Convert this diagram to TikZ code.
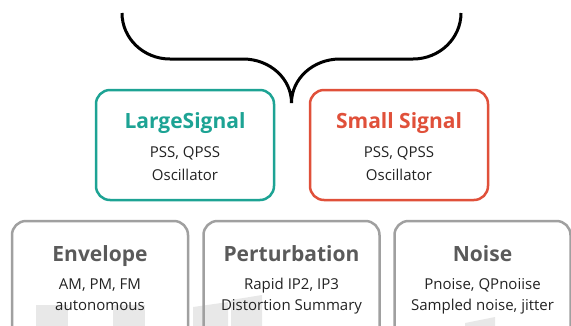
\documentclass[tikz,border=0pt]{standalone}
\usepackage{fontspec}
\setmainfont{Open Sans}
\definecolor{tealc}{HTML}{1DA394}
\definecolor{redc}{HTML}{E0503A}
\definecolor{grayb}{HTML}{A0A0A0}
\definecolor{grayt}{HTML}{5A5A5A}
\definecolor{bodyt}{HTML}{222222}
\definecolor{wmark}{HTML}{E8E8E8}
\begin{document}
\begin{tikzpicture}[x=1pt,y=-1pt,
  box/.style={rounded corners=14pt, line width=2.5pt, minimum width=178pt, minimum height=110pt, inner sep=0pt},
  lowbox/.style={box, draw=grayb, minimum width=176pt, minimum height=124pt},
  title/.style={anchor=base, inner sep=0pt, font=\fontsize{21}{25}\selectfont\bfseries},
  body/.style={anchor=base, inner sep=0pt, font=\fontsize{15}{18}\selectfont, text=bodyt},
  bracestyle/.style={line width=3pt, line cap=butt},
  wm/.style={fill=wmark, draw=none}]
\useasboundingbox (0,0) rectangle (571,325);
\clip (0,0) rectangle (571,325);
% watermark
\fill[wm] (36,305) rectangle (68,330);
\fill[wm] (113,305) rectangle (145,330);
\fill[wm] (193,307) -- (228,302) -- (228,330) -- (193,330) -- cycle;
\fill[wm] (231,300) -- (262,295) -- (262,330) -- (231,330) -- cycle;
\fill[wm] (465,323) -- (495,317) -- (495,330) -- (465,330) -- cycle;
% brace
\coordinate (bl) at (122,13);
\coordinate (br) at (461,13);
\coordinate (tip) at (291.5,103);
\draw[bracestyle] (bl) .. controls (122,38.4) and (143.5,59) .. (170,59)
  -- (243,59) .. controls (270,59) and (291.5,78.7) .. (tip)
  .. controls (291.5,78.7) and (313,59) .. (340,59)
  -- (413,59) .. controls (439.5,59) and (461,38.4) .. (br);
% top boxes
\node[box, draw=tealc] (large) at (185,145) {};
\node[box, draw=redc] (small) at (399,145) {};
\node[title, text=tealc] (largeT) at (185,128.3) {LargeSignal};
\node[body] (largeA) at (185,157.3) {PSS, QPSS};
\node[body] (largeB) at (185,180) {Oscillator};
\node[title, text=redc] (smallT) at (399,128.3) {Small Signal};
\node[body] (smallA) at (399,157.3) {PSS, QPSS};
\node[body] (smallB) at (399,180) {Oscillator};
% bottom boxes
\node[lowbox] (env) at (100,283) {};
\node[lowbox] (pert) at (291.5,283) {};
\node[lowbox] (noise) at (482.5,283) {};
\node[title, text=grayt] (envT) at (100,261.7) {Envelope};
\node[body] (envA) at (100,289) {AM, PM, FM};
\node[body] (envB) at (100,310) {autonomous};
\node[title, text=grayt] (pertT) at (291.5,261.7) {Perturbation};
\node[body] (pertA) at (291.5,289) {Rapid IP2, IP3};
\node[body] (pertB) at (291.5,310) {Distortion Summary};
\node[title, text=grayt] (noiseT) at (482.5,261.7) {Noise};
\node[body] (noiseA) at (482.5,289) {Pnoise, QPnoiise};
\node[body] (noiseB) at (482.5,310) {Sampled noise, jitter};
\end{tikzpicture}
\end{document}
